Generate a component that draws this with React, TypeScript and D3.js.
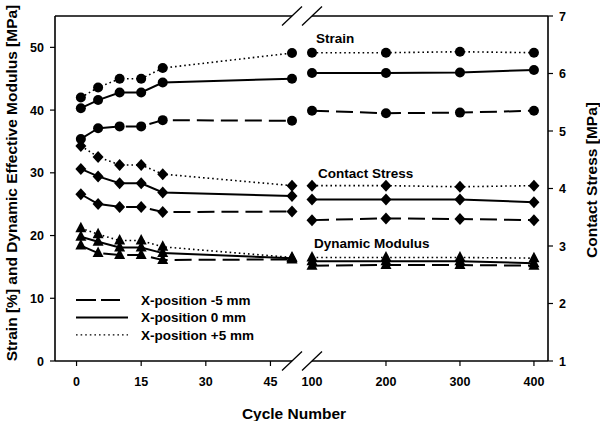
import React from "react";
import * as d3 from "d3";

// ---- data ----
const cyclesLeft = [1, 5, 10, 15, 20, 50];
const cyclesRight = [100, 200, 300, 400];
const cycles = [...cyclesLeft, ...cyclesRight];

const strainNeg5 = [35.4, 37.1, 37.4, 37.4, 38.4, 38.3, 39.9, 39.5, 39.6, 39.9];
const strain0 = [40.3, 41.6, 42.8, 42.8, 44.4, 45.0, 45.9, 45.9, 46.0, 46.4];
const strainPos5 = [42.0, 43.6, 45.0, 45.0, 46.7, 49.1, 49.15, 49.15, 49.3, 49.15];

const stressNeg5 = [3.9, 3.73, 3.68, 3.68, 3.59, 3.6, 3.45, 3.48, 3.47, 3.45];
const stress0 = [4.34, 4.21, 4.09, 4.09, 3.93, 3.87, 3.81, 3.81, 3.81, 3.76];
const stressPos5 = [4.74, 4.55, 4.41, 4.41, 4.25, 4.05, 4.05, 4.05, 4.03, 4.05];

const modNeg5 = [18.4, 17.2, 16.9, 16.9, 16.1, 16.2, 15.2, 15.3, 15.3, 15.2];
const mod0 = [19.8, 19.0, 18.1, 18.1, 17.2, 16.4, 15.9, 15.9, 15.9, 15.6];
const modPos5 = [21.15, 20.2, 19.2, 19.2, 18.2, 16.5, 16.5, 16.5, 16.5, 16.4];

const xTicksLeft = [0, 15, 30, 45];
const xTicksRight = [100, 200, 300, 400];
const yLeftTicks = [0, 10, 20, 30, 40, 50];
const yRightTicks = [1, 2, 3, 4, 5, 6, 7];
const legendLabels = ["X-position -5 mm", "X-position 0 mm", "X-position +5 mm"];
const groupLabels = ["Strain", "Contact Stress", "Dynamic Modulus"];

// ---- layout ----
const W = 600, H = 421;
const left = 55, right = 548, top = 16, bottom = 361;
const breakA = 292, breakB = 312;

const xL = d3.scaleLinear().domain([-5, 50]).range([left, breakA]);
const xR = d3.scaleLinear().domain([100, 419]).range([breakB, right]);
const xAny = (c: number) => (c <= 50 ? xL(c) : xR(c));
const yL = d3.scaleLinear().domain([0, 55]).range([bottom, top]);
const yR = d3.scaleLinear().domain([1, 7]).range([bottom, top]);

const FONT = "'Liberation Sans', Arial, sans-serif";
const dashStyles = [
  { dash: "17 7", width: 2 },
  { dash: "none", width: 2 },
  { dash: "1.6 3", width: 1.6 },
];

const circlePath = "M5,0A5,5 0 1,1 -5,0A5,5 0 1,1 5,0Z";
const diamondPath = "M0,-6L5.5,0L0,6L-5.5,0Z";
const trianglePath = "M0,-6.5L5.5,4L-5.5,4Z";

type Series = { values: number[]; y: d3.ScaleLinear<number, number>; style: number; marker: string };

const series: Series[] = [
  { values: strainNeg5, y: yL, style: 0, marker: circlePath },
  { values: strain0, y: yL, style: 1, marker: circlePath },
  { values: strainPos5, y: yL, style: 2, marker: circlePath },
  { values: stressNeg5, y: yR, style: 0, marker: diamondPath },
  { values: stress0, y: yR, style: 1, marker: diamondPath },
  { values: stressPos5, y: yR, style: 2, marker: diamondPath },
  { values: modNeg5, y: yL, style: 0, marker: trianglePath },
  { values: mod0, y: yL, style: 1, marker: trianglePath },
  { values: modPos5, y: yL, style: 2, marker: trianglePath },
];

function Slash({ x, y }: { x: number; y: number }) {
  return <line x1={x - 10} y1={y + 9.5} x2={x + 10} y2={y - 9.5} stroke="#000" strokeWidth={1.3} />;
}

export default function App() {
  const pts = (s: Series) => cycles.map((c, i) => [xAny(c), s.y(s.values[i])] as [number, number]);
  const line = d3.line();
  return (
    <svg width={W} height={H} style={{ position: "absolute", left: 0, top: 0, background: "#fff" }} fontFamily={FONT}>
      <rect width={W} height={H} fill="#fff" />
      {/* frame */}
      <g stroke="#000" strokeWidth={1.6} fill="none">
        <line x1={left} y1={top} x2={left} y2={bottom} />
        <line x1={right} y1={top} x2={right} y2={bottom} />
        <line x1={left} y1={bottom} x2={breakA} y2={bottom} />
        <line x1={breakB} y1={bottom} x2={right} y2={bottom} />
        <line x1={left} y1={top} x2={breakA} y2={top} />
        <line x1={breakB} y1={top} x2={right} y2={top} />
      </g>
      <Slash x={breakA} y={bottom} />
      <Slash x={breakB} y={bottom} />
      <Slash x={breakA} y={top} />
      <Slash x={breakB} y={top} />
      {/* x ticks */}
      {[...xTicksLeft.map((t) => xL(t)), ...xTicksRight.filter((t) => t > 100).map((t) => xR(t))].map((x, i) => (
        <line key={"xt" + i} x1={x} x2={x} y1={bottom} y2={bottom + 5} stroke="#000" strokeWidth={1.2} />
      ))}
      {[...xTicksLeft.map((t) => [xL(t), t]), ...xTicksRight.map((t) => [xR(t), t])].map(([x, t], i) => (
        <text key={"xl" + i} x={x} y={386} textAnchor="middle" fontSize={12.5} fontWeight="bold">
          {t}
        </text>
      ))}
      {/* left y ticks */}
      {yLeftTicks.map((t) => (
        <g key={"yl" + t}>
          <line x1={left - 5} x2={left} y1={yL(t)} y2={yL(t)} stroke="#000" strokeWidth={1.2} />
          <text x={44} y={yL(t) + 4.5} textAnchor="end" fontSize={12.5} fontWeight="bold">
            {t}
          </text>
        </g>
      ))}
      {/* right y ticks */}
      {yRightTicks.map((t) => (
        <g key={"yr" + t}>
          <line x1={right} x2={right + 5} y1={yR(t)} y2={yR(t)} stroke="#000" strokeWidth={1.2} />
          <text x={559} y={yR(t) + 4.5} textAnchor="start" fontSize={12.5} fontWeight="bold">
            {t}
          </text>
        </g>
      ))}
      {/* axis titles */}
      <text transform={`translate(17,183) rotate(-90)`} textAnchor="middle" fontSize={15.5} fontWeight="bold">
        Strain [%] and Dynamic Effective Modulus [MPa]
      </text>
      <text transform={`translate(597,180) rotate(-90)`} textAnchor="middle" fontSize={15.5} fontWeight="bold">
        Contact Stress [MPa]
      </text>
      <text x={294} y={419} textAnchor="middle" fontSize={15.5} fontWeight="bold">
        Cycle Number
      </text>
      {/* series */}
      {series.map((s, si) => {
        const p = pts(s);
        const st = dashStyles[s.style];
        return (
          <g key={"s" + si}>
            {[p.slice(0, cyclesLeft.length), p.slice(cyclesLeft.length)].map((seg, k) => (
              <path
                key={k}
                d={line(seg) || ""}
                fill="none"
                stroke="#000"
                strokeWidth={st.width}
                strokeDasharray={st.dash}
              />
            ))}
            {p.map(([x, y], i) => (
              <path key={i} d={s.marker} transform={`translate(${x},${y})`} fill="#000" />
            ))}
          </g>
        );
      })}
      {/* group labels */}
      <text x={316} y={43} fontSize={13.5} fontWeight="bold">{groupLabels[0]}</text>
      <text x={318} y={178} fontSize={13.5} fontWeight="bold">{groupLabels[1]}</text>
      <text x={314} y={248} fontSize={13.5} fontWeight="bold">{groupLabels[2]}</text>
      {/* legend */}
      {legendLabels.map((lab, i) => {
        const y = 300 + i * 17.4;
        const st = dashStyles[i];
        return (
          <g key={"lg" + i}>
            <line
              x1={76}
              x2={i === 0 ? 120 : 128}
              y1={y}
              y2={y}
              stroke="#000"
              strokeWidth={i === 2 ? 1.2 : st.width}
              strokeDasharray={i === 0 ? "20 5" : st.dash}
            />
            <text x={141} y={y + 4.7} fontSize={13.5} fontWeight="bold">
              {lab}
            </text>
          </g>
        );
      })}
    </svg>
  );
}
